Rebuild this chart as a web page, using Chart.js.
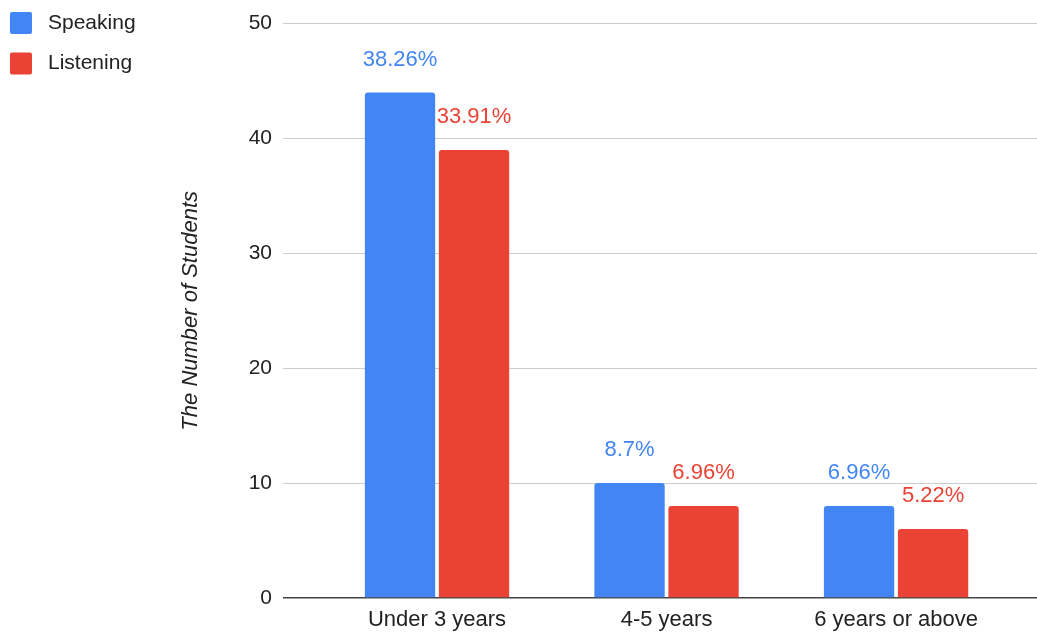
<!DOCTYPE html>
<html>
<head>
<meta charset="utf-8">
<script src="https://cdn.jsdelivr.net/npm/chart.js@4"></script>
<style>
  body { margin: 0; background: #fff; }
  #wrap { width: 1037px; height: 632px; }
</style>
</head>
<body>
<div id="wrap"><canvas id="barChart" width="1037" height="632"></canvas></div>
<script>
const categories = ['Under 3 years', '4-5 years', '6 years or above'];
const speaking = [44, 10, 8];
const listening = [39, 8, 6];
const totalStudents = 115;
const yTicks = [0, 10, 20, 30, 40, 50];

const BLUE = '#4285f4';
const RED = '#ea4335';
const FONT = "'Liberation Sans', Arial, Helvetica, sans-serif";

function pct(v) {
   return +(v / totalStudents * 100).toFixed(2) + '%';
}

// percentage text above each bar
const valueLabels = {
   id: 'valueLabels',
   afterDatasetsDraw(chart) {
      const ctx = chart.ctx;
      ctx.save();
      ctx.font = '22px ' + FONT;
      ctx.textAlign = 'center';
      ctx.textBaseline = 'alphabetic';
      chart.data.datasets.forEach((ds, i) => {
         chart.getDatasetMeta(i).data.forEach((bar, j) => {
            ctx.fillStyle = ds.backgroundColor;
            ctx.fillText(pct(ds.data[j].y), bar.x, bar.y - 27);
         });
      });
      ctx.restore();
   }
};

// legend stacked in the top-left corner
const cornerLegend = {
   id: 'cornerLegend',
   afterDraw(chart) {
      const ctx = chart.ctx;
      ctx.save();
      ctx.font = '21px ' + FONT;
      ctx.textBaseline = 'middle';
      chart.data.datasets.forEach((ds, i) => {
         const y = 12 + i * 40.5;
         ctx.fillStyle = ds.backgroundColor;
         ctx.beginPath();
         ctx.roundRect(10, y, 22, 22, 2);
         ctx.fill();
         ctx.fillStyle = '#222';
         ctx.fillText(ds.label, 48, y + 11);
      });
      ctx.restore();
   }
};

const toPoints = arr => arr.map((v, i) => ({ x: i, y: v }));

new Chart(document.getElementById('barChart'), {
   type: 'bar',
   data: {
      datasets: [
         { label: 'Speaking', data: toPoints(speaking), backgroundColor: BLUE },
         { label: 'Listening', data: toPoints(listening), backgroundColor: RED }
      ]
   },
   options: {
      responsive: false,
      animation: false,
      events: [],
      categoryPercentage: 0.645,
      barPercentage: 0.95,
      borderRadius: 3,
      borderSkipped: 'start',
      layout: { padding: { top: 23, left: 0, right: 0, bottom: 0 } },
      plugins: {
         legend: { display: false },
         tooltip: { enabled: false }
      },
      scales: {
         x: {
            type: 'linear',
            offset: false,
            min: -0.671,
            max: 2.614,
            grid: { display: false, offset: false },
            border: { display: false },
            afterBuildTicks: scale => { scale.ticks = categories.map((c, i) => ({ value: i })); },
            afterFit: scale => { scale.height = 34; },
            ticks: {
               padding: 1,
               color: '#222',
               font: { family: FONT, size: 22 },
               maxRotation: 0,
               callback: v => categories[v]
            }
         },
         y: {
            min: yTicks[0],
            max: yTicks[yTicks.length - 1],
            afterBuildTicks: scale => { scale.ticks = yTicks.map(v => ({ value: v })); },
            afterFit: scale => { scale.width = 283; },
            border: { display: false },
            grid: {
               drawTicks: false,
               color: c => c.tick.value === 0 ? '#444' : '#cccccc',
               lineWidth: c => c.tick.value === 0 ? 1.6 : 1
            },
            ticks: {
               padding: 11,
               color: '#222',
               font: { family: FONT, size: 21 }
            },
            title: {
               display: true,
               text: 'The Number of Students',
               color: '#222',
               font: { family: FONT, size: 22, style: 'italic' },
               padding: { top: 178, bottom: 0 }
            }
         }
      }
   },
   plugins: [valueLabels, cornerLegend]
});
</script>
</body>
</html>
